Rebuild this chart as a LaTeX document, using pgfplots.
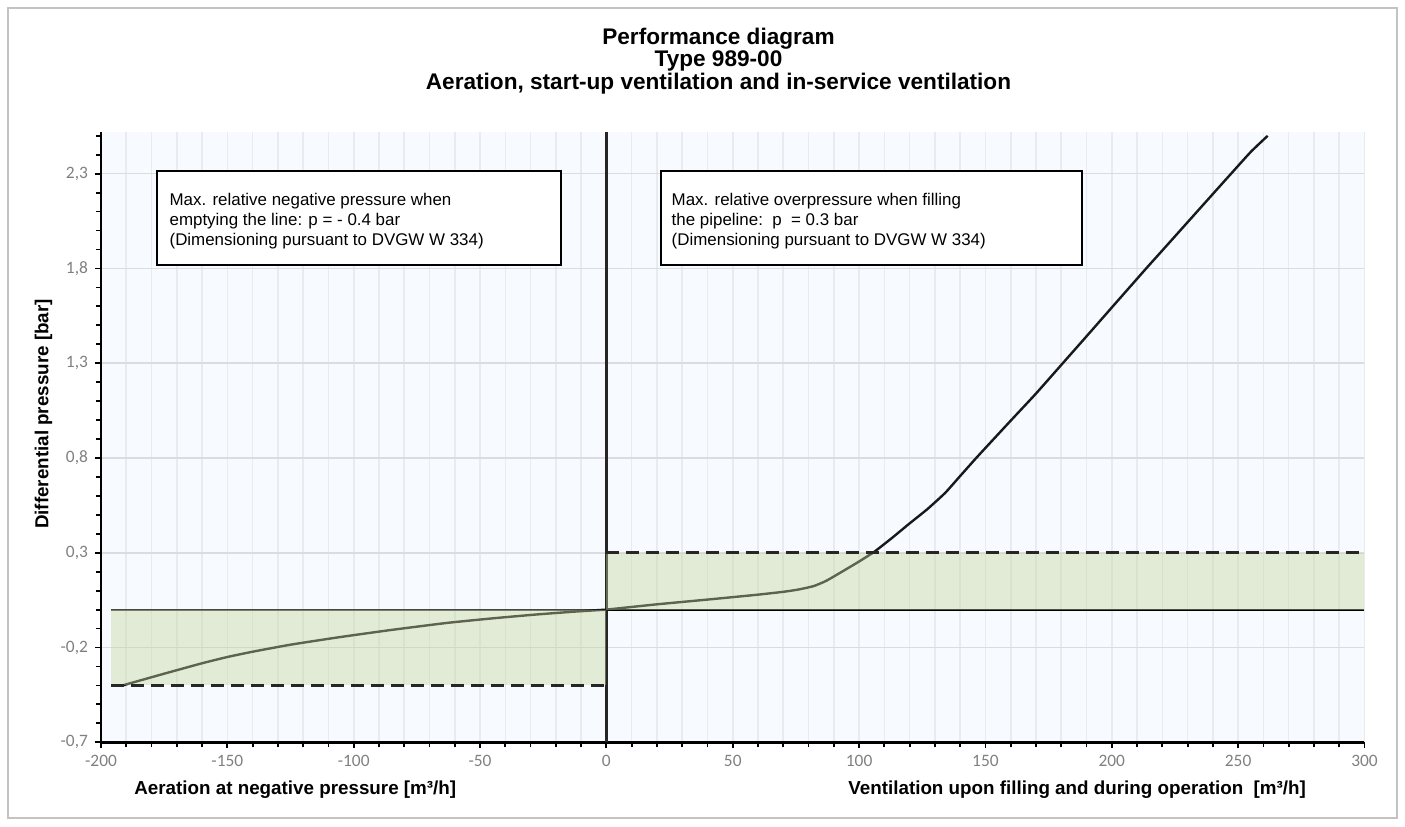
\documentclass[border=0pt]{standalone}
\usepackage{pgfplots}
\pgfplotsset{compat=1.18}
\usepackage{pgfplotstable}
\usepackage{fontspec}
\setmainfont{Liberation Sans}
\newfontfamily\tickfont{Carlito}
\definecolor{bgblue}{RGB}{247,250,254}
\definecolor{fillgreen}{RGB}{195,214,155}
\definecolor{gridv}{RGB}{232,235,239}
\definecolor{gridh}{RGB}{218,220,224}
\definecolor{ticklab}{RGB}{128,128,128}
\definecolor{framegray}{RGB}{195,195,195}

\pgfplotstableread{
x y
-191.5 -0.400
-175 -0.338
-160 -0.283
-150 -0.250
-140 -0.222
-125 -0.185
-105.5 -0.145
-85 -0.107
-63 -0.070
-45 -0.046
-28 -0.026
-12 -0.010
0 0
}\lefttab
\pgfplotstableread{
x y
0 0
20 0.028
40 0.053
60 0.079
70 0.094
76 0.106
82 0.124
87 0.152
93.6 0.203
100 0.254
106 0.305
113 0.378
120 0.455
127 0.530
134 0.615
140 0.705
146 0.795
150 0.853
160 0.997
170 1.140
180.6 1.300
190 1.442
200 1.594
213.6 1.800
220 1.895
230 2.044
240 2.193
247.2 2.300
255 2.415
261.7 2.500
}\righttab

\begin{document}
\begin{tikzpicture}
\path[use as bounding box] (0,0) rectangle (702.5pt,413pt);
\draw[framegray, line width=0.9pt] (4pt,4pt) rectangle (698.5pt,409pt);
\begin{axis}[
  at={(50.5pt,41.85pt)}, anchor=south west,
  width=631.75pt, height=305.15pt, scale only axis,
  xmin=-200, xmax=300, ymin=-0.7, ymax=2.52,
  axis x line=bottom, axis y line=left,
  axis line style={-, line width=1.2pt, black},
  axis background/.style={fill=bgblue},
  xtick={-200,-150,...,300},
  ytick={-0.7,-0.2,0.3,0.8,1.3,1.8,2.3},
  minor xtick={-190,-180,...,290},
  minor ytick={-0.6,-0.5,-0.4,-0.3,-0.1,0,0.1,0.2,0.4,0.5,0.6,0.7,0.9,1.0,1.1,1.2,1.4,1.5,1.6,1.7,1.9,2.0,2.1,2.2,2.4,2.5},
  tick align=outside, major tick length=3pt, minor tick length=2.5pt,
  every tick/.style={black, line width=0.9pt},
  xmajorgrids=true, xminorgrids=true, ymajorgrids=true, yminorgrids=false,
  major x grid style={gridv, line width=0.8pt},
  minor x grid style={gridv, line width=0.8pt},
  major y grid style={gridh, line width=0.8pt},
  ticklabel style={font=\tickfont\fontsize{8.7}{9}\selectfont, text=ticklab},
  xticklabel style={/pgf/number format/.cd, fixed, assume math mode=true},
  yticklabel style={/pgf/number format/.cd, fixed, fixed zerofill, precision=1, use comma, assume math mode=true},
  clip=false,
]
\addplot[line width=1pt, color=black!72] coordinates {(-196,0) (0,0)};
\addplot[line width=1pt, color=black] coordinates {(0,0) (300,0)};
\addplot[line width=1.2pt, color=black!85] coordinates {(0,-0.7) (0,2.52)};
\addplot[line width=1.2pt, color=black!90, smooth, tension=0.3] table {\lefttab};
\addplot[line width=1.2pt, color=black!90, smooth, tension=0.3] table {\righttab};
\addplot[draw=none, fill=fillgreen, fill opacity=0.4] coordinates {(-196,-0.4) (0,-0.4) (0,0) (-196,0)} -- cycle;
\addplot[draw=none, fill=fillgreen, fill opacity=0.4] coordinates {(0,0) (300,0) (300,0.3) (0,0.3)} -- cycle;
\addplot[line width=1.3pt, color=black!85, dash pattern=on 6.5pt off 3.5pt] coordinates {(-196,-0.4) (0,-0.4)};
\addplot[line width=1.3pt, color=black!85, dash pattern=on 6.5pt off 3.5pt] coordinates {(0,0.3) (300,0.3)};
\draw[line width=1pt, fill=white] (axis cs:-178,2.313) rectangle (axis cs:-18,1.818);
\draw[line width=1pt, fill=white] (axis cs:21.8,2.313) rectangle (axis cs:188.4,1.818);
\node[anchor=north west, inner sep=0pt, align=left, font=\fontsize{8.46}{10}\selectfont] at (axis cs:-173,2.197)
  {Max. relative negative pressure when\\emptying the line: p = - 0.4 bar\\(Dimensioning pursuant to DVGW W 334)};
\node[anchor=north west, inner sep=0pt, align=left, font=\fontsize{8.46}{10}\selectfont] at (axis cs:25.7,2.197)
  {Max. relative overpressure when filling\\the pipeline:\ \ p\ \ = 0.3 bar\\(Dimensioning pursuant to DVGW W 334)};
\end{axis}
\node[anchor=base, font=\bfseries\fontsize{11.3}{12}\selectfont] at (359.25pt,390.5pt) {Performance diagram};
\node[anchor=base, font=\bfseries\fontsize{11.3}{12}\selectfont] at (359.25pt,379.65pt) {Type 989-00};
\node[anchor=base, font=\bfseries\fontsize{11.3}{12}\selectfont] at (359.25pt,368.35pt) {Aeration, start-up ventilation and in-service ventilation};
\node[anchor=base, rotate=90, font=\bfseries\fontsize{9.4}{10}\selectfont] at (24.2pt,206pt) {Differential pressure [bar]};
\node[anchor=base west, font=\bfseries\fontsize{9.4}{10}\selectfont, inner sep=0pt] at (67pt,16pt) {Aeration at negative pressure [m³/h]};
\node[anchor=base west, font=\bfseries\fontsize{9.4}{10}\selectfont, inner sep=0pt] at (424pt,16pt) {Ventilation upon filling and during operation\ \ [m³/h]};
\end{tikzpicture}
\end{document}
